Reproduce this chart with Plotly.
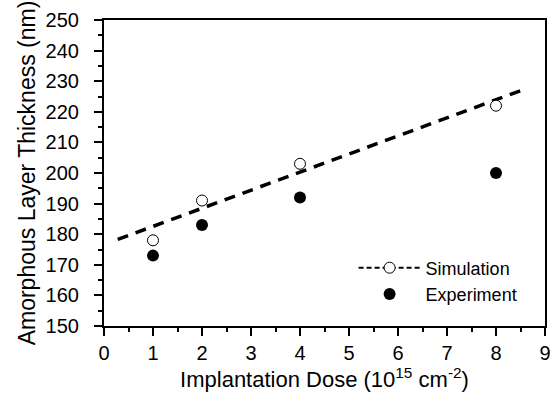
import plotly.graph_objects as go

dose = [1, 2, 4, 8]
simulation = [178, 191, 203, 222]
experiment = [173, 183, 192, 200]
fit_x = [0.28, 8.55]
fit_y = [178.3, 227.2]

FONT = "Liberation Sans, Arial, sans-serif"

fig = go.Figure()
fig.add_trace(go.Scatter(x=fit_x, y=fit_y, mode="lines",
                         line=dict(color="black", width=3.5, dash="11px,8px"),
                         showlegend=False, hoverinfo="skip"))
fig.add_trace(go.Scatter(x=dose, y=simulation, mode="markers", name="Simulation",
                         marker=dict(symbol="circle", size=11, color="white",
                                     line=dict(width=1, color="black")),
                         showlegend=False))
fig.add_trace(go.Scatter(x=dose, y=experiment, mode="markers", name="Experiment",
                         marker=dict(symbol="circle", size=12, color="black"),
                         showlegend=False))
# legend entries
fig.add_trace(go.Scatter(x=[None], y=[None], mode="lines+markers", name="Simulation",
                         line=dict(color="black", width=2, dash="5px,3px"),
                         marker=dict(symbol="circle", size=11, color="white",
                                     line=dict(width=1, color="black"))))
fig.add_trace(go.Scatter(x=[None], y=[None], mode="markers", name="Experiment",
                         marker=dict(symbol="circle", size=12, color="black")))

axis_common = dict(showline=True, linecolor="black", linewidth=2, mirror=True,
                   ticks="outside", tickwidth=2, tickcolor="black", ticklen=8,
                   showgrid=False, zeroline=False,
                   tickfont=dict(family=FONT, size=20, color="black"))

fig.update_layout(
    width=556, height=394,
    margin=dict(l=104, r=5, t=20, b=68),
    paper_bgcolor="white", plot_bgcolor="white",
    font=dict(family=FONT, color="black"),
    xaxis=dict(range=[0, 9], dtick=1, tick0=0,
               minor=dict(dtick=0.5, ticks="outside", ticklen=4, tickwidth=2, tickcolor="black"),
               title=dict(text="Implantation Dose (10<sup>15</sup> cm<sup>-2</sup>)",
                          font=dict(family=FONT, size=22), standoff=0),
               **axis_common),
    yaxis=dict(range=[150, 250], dtick=10, tick0=150,
               minor=dict(dtick=5, ticks="outside", ticklen=4, tickwidth=2, tickcolor="black"),
               title=dict(text="Amorphous Layer Thickness (nm)",
                          font=dict(family=FONT, size=23), standoff=3),
               ticksuffix="\u00a0\u00a0",
               **axis_common),
    legend=dict(x=(357 - 104) / 447, y=0.25, xanchor="left", yanchor="top",
                bgcolor="rgba(0,0,0,0)", font=dict(family=FONT, size=18),
                itemwidth=62, tracegroupgap=0),
)

fig.write_html("out.html")
